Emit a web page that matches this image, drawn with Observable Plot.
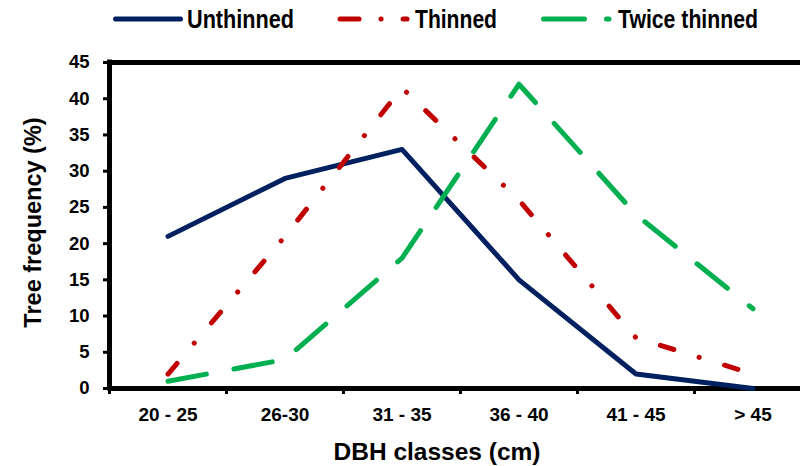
<!DOCTYPE html>
<html>
<head>
<meta charset="utf-8">
<script src="https://cdn.jsdelivr.net/npm/d3@7"></script>
<script src="https://cdn.jsdelivr.net/npm/@observablehq/plot@0.6"></script>
<style>
  html, body { margin: 0; padding: 0; background: #fff; overflow: hidden; }
  #legend { display: block; }
  #chart svg { display: block; overflow: visible; }
</style>
</head>
<body>
<svg id="legend" width="800" height="40"></svg>
<div id="chart"></div>
<script>
const categories = ["20 - 25", "26-30", "31 - 35", "36 - 40", "41 - 45", "> 45"];
const seriesNames = ["Unthinned", "Thinned", "Twice thinned"];
const unthinned = [21, 29, 33, 15, 2, 0];
const thinned = [2, 21, 41.5, 26, 7, 2];
const twiceThinned = [1, 4, 18, 42, 24, 11];
const yTicks = [0, 5, 10, 15, 20, 25, 30, 35, 40, 45];

const colors = {"Unthinned": "#002060", "Thinned": "#C00000", "Twice thinned": "#00B050"};
const dashes = {"Unthinned": null, "Thinned": "14,26.5,0.1,26.5", "Twice thinned": "39,28"};

const rows = [];
[unthinned, thinned, twiceThinned].forEach((vals, s) => {
  vals.forEach((v, i) => rows.push({series: seriesNames[s], idx: i, cat: categories[i], value: v}));
});

const font = "'Liberation Sans', Arial, Helvetica, sans-serif";

// Legend (SVG above the plot)
const leg = d3.select("#legend");
const legItems = [
  {name: "Unthinned", x1: 115.5, x2: 180.5, tx: 187, tw: 107, dash: null},
  {name: "Thinned", x1: 340, x2: 407, tx: 415, tw: 82, dash: "19,22,0.1,22"},
  {name: "Twice thinned", x1: 543.5, x2: 609, tx: 618, tw: 140, dash: "41,22"}
];
legItems.forEach(it => {
  leg.append("line")
    .attr("x1", it.x1).attr("x2", it.x2).attr("y1", 19).attr("y2", 19)
    .attr("stroke", colors[it.name]).attr("stroke-width", 5)
    .attr("stroke-linecap", "round")
    .attr("stroke-dasharray", it.dash);
  leg.append("text")
    .attr("x", it.tx).attr("y", 28)
    .attr("font-family", font).attr("font-weight", "bold").attr("font-size", 25)
    .attr("textLength", it.tw).attr("lengthAdjust", "spacingAndGlyphs")
    .attr("fill", "#000")
    .text(it.name);
});

const boundaries = d3.range(0, categories.length + 1);
const centers = categories.map((c, i) => i + 0.5);

const lineMark = (name) => Plot.line(rows.filter(d => d.series === name), {
  x: d => d.idx + 0.5,
  y: "value",
  stroke: colors[name],
  strokeWidth: 5,
  strokeLinecap: "round",
  strokeLinejoin: "round",
  strokeDasharray: dashes[name]
});

const chart = Plot.plot({
  width: 800,
  height: 426,
  marginLeft: 109,
  marginRight: 0,
  marginTop: 22,
  marginBottom: 78,
  style: {fontFamily: font, fontWeight: "bold", fontSize: "18px", color: "#000", background: "#fff"},
  x: {type: "linear", domain: [0, categories.length], range: [109, 811]},
  y: {domain: [0, 45]},
  marks: [
    Plot.axisY({ticks: yTicks, tickSize: 6, tickPadding: 14, strokeWidth: 3, label: null, fontSize: 18.5, fontWeight: "bold"}),
    Plot.axisX({ticks: boundaries, tickSize: 6, strokeWidth: 3, tickFormat: () => "", label: null}),
    Plot.axisX({ticks: centers, tickSize: 0, tickPadding: 19, tickFormat: (d, i) => categories[i], label: null, fontSize: 19, fontWeight: "bold"}),
    Plot.ruleY([0, 45], {x1: 0, x2: categories.length, stroke: "#000", strokeWidth: 5}),
    Plot.ruleX([0], {y1: 0, y2: 45, stroke: "#000", strokeWidth: 5, strokeLinecap: "square"}),
    lineMark("Unthinned"),
    lineMark("Thinned"),
    lineMark("Twice thinned"),
    Plot.text(["Tree frequency (%)"], {frameAnchor: "left", textAnchor: "middle", rotate: -90, dx: -76, dy: -3, fontSize: 23.5, fontWeight: "bold", fill: "#000", lineAnchor: "middle"}),
    Plot.text(["DBH classes (cm)"], {frameAnchor: "bottom", dx: -18, dy: 64, fontSize: 24.5, fontWeight: "bold", fill: "#000", lineAnchor: "middle"})
  ]
});
document.getElementById("chart").appendChild(chart);
</script>
</body>
</html>
